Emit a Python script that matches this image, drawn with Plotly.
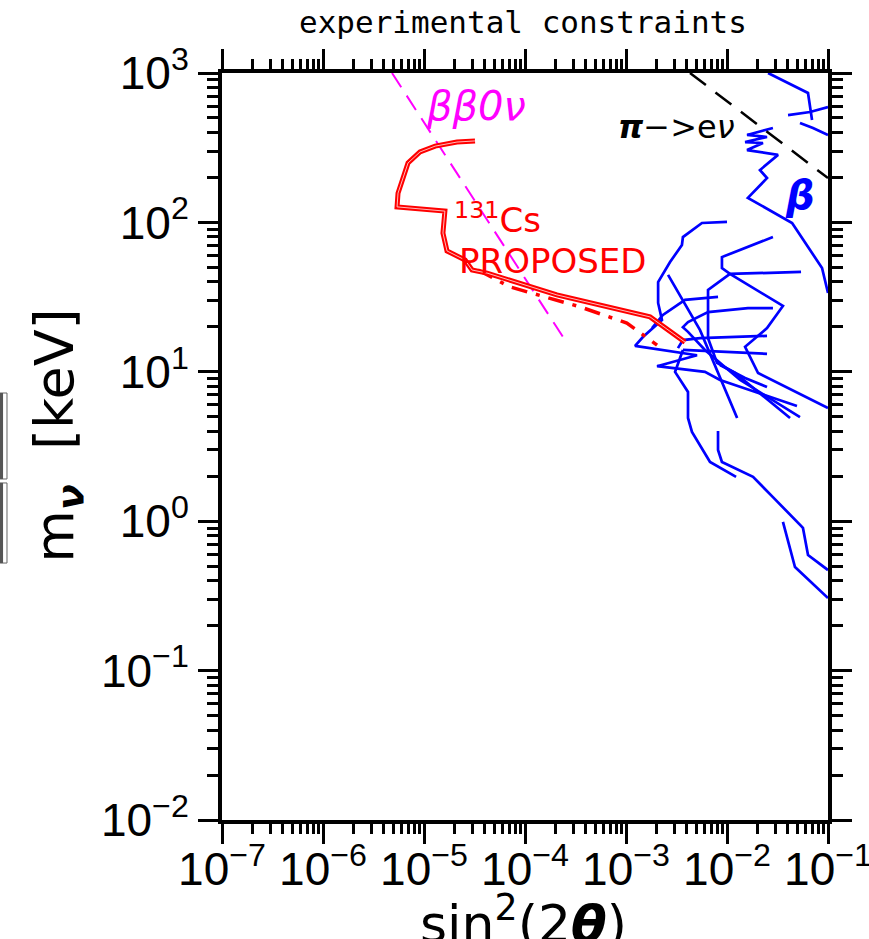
import math
import plotly.graph_objects as go

# ---- axis ticks -------------------------------------------------------------
x_decades = [1e-7, 1e-6, 1e-5, 1e-4, 1e-3, 1e-2, 1e-1]
x_ticktext = ["10<sup>−7</sup>", "10<sup>−6</sup>", "10<sup>−5</sup>", "10<sup>−4</sup>",
              "10<sup>−3</sup>", "10<sup>−2</sup>", "10<sup>−1</sup>"]
y_decades = [1e-2, 1e-1, 1e0, 1e1, 1e2, 1e3]
y_ticktext = ["10<sup>−2</sup>", "10<sup>−1</sup>", "10<sup>0</sup>",
              "10<sup>1</sup>", "10<sup>2</sup>", "10<sup>3</sup>"]

# ---- proposed 131Cs sensitivity ---------------------------------------------
cs_solid_x = [3.20e-5, 2.12e-5, 1.29e-5, 9.12e-6, 6.95e-6, 6.05e-6, 5.53e-6, 5.41e-6,
              1.61e-5, 1.54e-5, 1.69e-5, 2.55e-5, 2.99e-5, 4.21e-5, 2.07e-4, 1.73e-3, 3.84e-3]
cs_solid_y = [351, 345, 324, 296, 250, 192, 157, 127,
              119, 84.9, 64.4, 56.0, 48.0, 45.8, 32.7, 23.3, 15.8]
cs_dashdot_x = [3.43e-5, 7.10e-5, 3.51e-4, 1.02e-3, 2.03e-3]
cs_dashdot_y = [48.0, 37.0, 27.2, 21.2, 15.1]

# ---- neutrinoless double beta decay bound -----------------------------------
bb0v_x = [4.82e-6, 2.49e-4]
bb0v_y = [1000, 16.3]

# ---- pi -> e nu bound --------------------------------------------------------
pienu_x = [4.3e-3, 0.1]
pienu_y = [1000, 198]

# ---- beta decay kink searches ------------------------------------------------
beta1_x = [0.0255, 0.0634, 0.0695]
beta1_y = [1000, 735, 485]
beta2_x = [0.0402, 0.0664, 0.1]
beta2_y = [523, 548, 592]
beta3_x = [0.0528, 0.0710, 0.1]
beta3_y = [463, 428, 385]
beta4_x = [0.0285, 0.0158, 0.0249, 0.0151, 0.0227, 0.0158, 0.0320, 0.0212, 0.0249,
           0.0161, 0.0441, 0.0873, 0.1]
beta4_y = [428, 385, 373, 345, 340, 305, 283, 224, 198, 146, 99.1, 49.5, 33.7]
beta5_x = [0.0100, 0.00565, 0.00366, 0.00358, 0.00273, 0.00208, 0.00208, 0.00227,
           0.00147, 0.00123, 0.00505, 0.00203, 0.00605, 0.00853, 0.0493]
beta5_y = [100.7, 99.1, 79.8, 70.6, 54.3, 39.9, 28.9, 22.2, 17.1, 14.9, 12.9, 10.9,
           9.98, 8.82, 5.90]
beta6_x = [0.0285, 0.00891, 0.00891, 0.0107, 0.0358, 0.0249, 0.0151, 0.0203, 0.1]
beta6_y = [79.8, 58.6, 49.5, 45.2, 27.6, 19.6, 14.7, 9.82, 5.73]
beta7_x = [0.0541, 0.0107, 0.00649, 0.00649, 0.00796, 0.0120, 0.0421]
beta7_y = [46.6, 45.2, 35.3, 16.8, 11.5, 9.82, 4.91]
beta8_x = [0.00261, 0.00541, 0.0126]
beta8_y = [44.5, 19.0, 4.91]
beta9_x = [0.00815, 0.00384, 0.00232, 0.00181]
beta9_y = [31.7, 30.3, 24.0, 19.6]
beta10_x = [0.0285, 0.0161, 0.00649, 0.00411, 0.00366, 0.00411, 0.00605, 0.0135, 0.0528]
beta10_y = [26.7, 26.7, 25.1, 21.5, 19.9, 18.5, 14.0, 8.82, 4.98]
beta11_x = [0.0249, 0.00541, 0.00366, 0.00327]
beta11_y = [17.4, 16.8, 16.3, 14.4]
beta12_x = [0.0249, 0.0107, 0.00366]
beta12_y = [13.2, 13.6, 14.0]
beta13_x = [0.00366, 0.00306, 0.00411, 0.00411, 0.00450, 0.00679, 0.0123]
beta13_y = [14.0, 9.98, 7.33, 4.91, 3.96, 2.49, 1.98]
beta14_x = [0.00815, 0.00815, 0.00891, 0.0181, 0.0285, 0.0565, 0.0634, 0.1]
beta14_y = [4.02, 3.00, 2.49, 1.98, 1.45, 0.902, 0.594, 0.471]
beta15_x = [0.0358, 0.0471, 0.1]
beta15_y = [0.989, 0.493, 0.306]
beta16_x = [0.00853, 0.0151, 0.0249]
beta16_y = [11.1, 9.10, 7.91]

beta_sets = [
    (beta1_x, beta1_y), (beta2_x, beta2_y), (beta3_x, beta3_y), (beta4_x, beta4_y),
    (beta5_x, beta5_y), (beta6_x, beta6_y), (beta7_x, beta7_y), (beta8_x, beta8_y),
    (beta9_x, beta9_y), (beta10_x, beta10_y), (beta11_x, beta11_y), (beta12_x, beta12_y),
    (beta13_x, beta13_y), (beta14_x, beta14_y), (beta15_x, beta15_y), (beta16_x, beta16_y),
]

BLUE = "#0000ff"
RED = "#ff0000"
MAGENTA = "#ff00ff"

fig = go.Figure()

for bx, by in beta_sets:
    fig.add_trace(go.Scatter(x=bx, y=by, mode="lines",
                             line=dict(color=BLUE, width=2.7), hoverinfo="skip"))

fig.add_trace(go.Scatter(x=pienu_x, y=pienu_y, mode="lines",
                         line=dict(color="black", width=2.5, dash="20px,12px")))
fig.add_trace(go.Scatter(x=bb0v_x, y=bb0v_y, mode="lines",
                         line=dict(color=MAGENTA, width=2, dash="17px,10px")))

fig.add_trace(go.Scatter(x=cs_dashdot_x, y=cs_dashdot_y, mode="lines",
                         line=dict(color=RED, width=3.5, dash="16px,9px,4px,9px")))
# solid curve drawn as a double line: thick red with a thin light core
fig.add_trace(go.Scatter(x=cs_solid_x, y=cs_solid_y, mode="lines",
                         line=dict(color=RED, width=5)))
fig.add_trace(go.Scatter(x=cs_solid_x, y=cs_solid_y, mode="lines",
                         line=dict(color="#ffd0d0", width=0.9)))

tick_font = dict(family="Liberation Sans, sans-serif", size=46, color="black")
x_minor = [m * 10 ** e for e in range(-7, -1) for m in range(2, 10)]
y_minor = [m * 10 ** e for e in range(-2, 3) for m in range(2, 10)]

axis_common = dict(
    type="log", showgrid=False, zeroline=False, automargin=False,
    showline=True, linecolor="black", linewidth=4, mirror="ticks",
    ticks="outside", ticklen=20, tickwidth=3, tickcolor="black",
    tickmode="array", tickfont=tick_font, tickangle=0,
    ticklabeloverflow="allow",
)

fig.update_xaxes(
    range=[-7, -1], tickvals=x_decades, ticktext=x_ticktext,
    ticklabelstandoff=-14,
    minor=dict(tickmode="array", tickvals=x_minor, ticks="outside",
               ticklen=10, tickwidth=2.5, tickcolor="black"),
    **axis_common,
)
fig.update_yaxes(
    range=[-2, 3], tickvals=y_decades, ticktext=y_ticktext,
    minor=dict(tickmode="array", tickvals=y_minor, ticks="outside",
               ticklen=11, tickwidth=2.5, tickcolor="black"),
    **axis_common,
)

L = math.log10
annotations = [
    dict(text="experimental constraints", xref="paper", yref="paper", x=0.497, y=1.068,
         xanchor="center", yanchor="middle", showarrow=False,
         font=dict(family="DejaVu Sans Mono", size=31, color="black")),
    dict(text="m<sub><b><i>ν</i></b></sub>  [keV]", xref="paper", yref="paper",
         x=-0.27, y=0.515, textangle=-90, xanchor="center", yanchor="middle",
         showarrow=False, font=dict(family="DejaVu Sans", size=54, color="black")),
    dict(text="sin<sup>2</sup>(2<b><i>θ</i></b>)", xref="paper", yref="paper",
         x=0.497, y=-0.182, xanchor="center", yanchor="bottom", showarrow=False,
         font=dict(family="DejaVu Sans", size=52, color="black")),
    dict(text="<i>ββ0ν</i>", xref="x", yref="y", x=L(3.27e-5), y=L(600),
         xanchor="center", yanchor="middle", showarrow=False,
         font=dict(family="DejaVu Sans", size=40, color=MAGENTA)),
    dict(text="<b><i>π</i></b>−>e<i>ν</i>", xref="x", yref="y", x=L(3.13e-3), y=L(436),
         xanchor="center", yanchor="middle", showarrow=False,
         font=dict(family="DejaVu Sans", size=32, color="black")),
    dict(text="<b><i>β</i></b>", xref="x", yref="y", x=L(5.3e-2), y=L(152),
         xanchor="center", yanchor="middle", showarrow=False,
         font=dict(family="DejaVu Sans", size=40, color=BLUE)),
    dict(text="<sup>131</sup>Cs", xref="x", yref="y", x=L(1.89e-5), y=L(107),
         xanchor="left", yanchor="middle", showarrow=False,
         font=dict(family="DejaVu Sans", size=34, color=RED)),
    dict(text="PROPOSED", xref="x", yref="y", x=L(2.12e-5), y=L(55.2),
         xanchor="left", yanchor="middle", showarrow=False,
         font=dict(family="DejaVu Sans", size=34, color=RED)),
]

# small framed box at the far left edge of the page
shapes = [
    dict(type="rect", xref="paper", yref="paper", x0=-0.3663, x1=-0.3548, y0=0.4565, y1=0.5716,
         line=dict(color="#666666", width=1), fillcolor="white", layer="above"),
    dict(type="rect", xref="paper", yref="paper", x0=-0.3663, x1=-0.3613, y0=0.4565, y1=0.5716,
         line=dict(width=0), fillcolor="#555555", layer="above"),
    dict(type="rect", xref="paper", yref="paper", x0=-0.3663, x1=-0.3548, y0=0.3440, y1=0.4512,
         line=dict(color="#666666", width=1), fillcolor="white", layer="above"),
    dict(type="rect", xref="paper", yref="paper", x0=-0.3663, x1=-0.3613, y0=0.3440, y1=0.4512,
         line=dict(width=0), fillcolor="#555555", layer="above"),
]

fig.update_layout(
    width=869, height=939,
    margin=dict(l=222, r=41, t=73, b=119),
    paper_bgcolor="white", plot_bgcolor="white",
    showlegend=False,
    annotations=annotations,
    shapes=shapes,
    font=dict(family="DejaVu Sans", color="black"),
)

fig.write_html("out.html")
